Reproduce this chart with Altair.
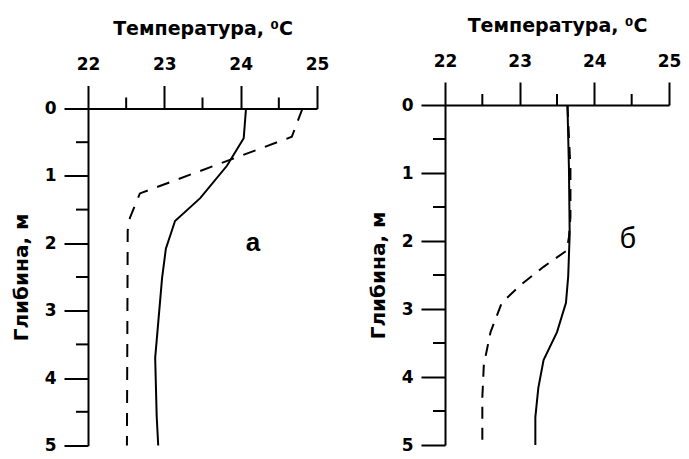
import altair as alt
import pandas as pd

# Panel "а"
a_solid_T = [24.07, 24.04, 23.82, 23.47, 23.14, 23.02, 22.97, 22.88, 22.90, 22.92]
a_solid_D = [0.0, 0.44, 0.85, 1.33, 1.67, 2.08, 2.52, 3.70, 4.57, 5.0]
a_dash_T = [24.81, 24.67, 22.68, 22.55, 22.52, 22.51]
a_dash_D = [0.0, 0.42, 1.26, 1.62, 1.81, 5.0]

# Panel "б"
b_solid_T = [23.64, 23.66, 23.67, 23.65, 23.62, 23.50, 23.32, 23.25, 23.21, 23.21]
b_solid_D = [0.0, 0.93, 1.90, 2.52, 2.91, 3.34, 3.75, 4.16, 4.59, 5.0]
b_dash_T = [23.64, 23.68, 23.68, 23.66, 23.63, 23.32, 23.02, 22.76, 22.61, 22.52, 22.50, 22.50]
b_dash_D = [0.0, 0.93, 1.65, 1.94, 2.14, 2.38, 2.64, 2.91, 3.34, 3.82, 4.30, 5.0]

temp_major = [22, 23, 24, 25]
temp_minor = [22.5, 23.5, 24.5]
depth_major = [0, 1, 2, 3, 4, 5]
depth_minor = [0.5, 1.5, 2.5, 3.5, 4.5]

x_title = "Температура, ⁰C"
y_title = "Глибина, м"
AXIS_FONT = "DejaVu Sans"
LETTER_FONT = "Liberation Sans"


def make_panel(sT, sD, dT, dD, letter, lx, ly, lweight, lsize, w, h, dash,
               top_space, left_space, right_space, bottom_space):
    x_scale = alt.Scale(domain=[22, 25], nice=False, zero=False)
    y_scale = alt.Scale(domain=[0, 5], reverse=True, nice=False, zero=False)
    x_axis = alt.Axis(
        orient="top", values=temp_major, format="d", title=x_title,
        tickSize=23, labelPadding=12, titlePadding=17, titleFontSize=19,
        labelFlush=False, labelOverlap=False, grid=False,
    )
    y_axis = alt.Axis(
        orient="left", values=depth_major, format="d", title=y_title,
        tickSize=24, labelPadding=8, titlePadding=13, titleFontSize=20,
        labelFlush=False, labelOverlap=False, grid=False,
    )
    X = alt.X("T:Q", scale=x_scale, axis=x_axis)
    Y = alt.Y("D:Q", scale=y_scale, axis=y_axis)

    solid = alt.Chart(pd.DataFrame({"T": sT, "D": sD})).mark_line(
        color="black", strokeWidth=2).encode(x=X, y=Y, order=alt.Order("D:Q"))
    dashed = alt.Chart(pd.DataFrame({"T": dT, "D": dD})).mark_line(
        color="black", strokeWidth=2, strokeDash=dash).encode(x=X, y=Y, order=alt.Order("D:Q"))

    # minor ticks (half-degree / half-metre), outward like the major ones
    x_minor = alt.Chart(pd.DataFrame({"T": temp_minor})).mark_rule(
        color="black", strokeWidth=2).encode(x=X, y=alt.value(-11), y2=alt.value(0))
    y_minor = alt.Chart(pd.DataFrame({"D": depth_minor})).mark_rule(
        color="black", strokeWidth=2).encode(y=Y, x=alt.value(-12), x2=alt.value(0))

    txt = alt.Chart(pd.DataFrame({"k": [0]})).mark_text(
        text=letter, font=LETTER_FONT, fontSize=lsize, fontWeight=lweight, color="black",
        align="center", baseline="middle",
    ).encode(x=alt.datum(lx), y=alt.datum(ly))

    # invisible layout spacers (fix the panel's outer bounds)
    sp_top = alt.Chart(pd.DataFrame({"k": [0]})).mark_rule(opacity=0).encode(
        x=alt.value(-left_space), x2=alt.value(w + right_space),
        y=alt.value(-top_space), y2=alt.value(-top_space))
    sp_bot = alt.Chart(pd.DataFrame({"k": [0]})).mark_rule(opacity=0).encode(
        x=alt.value(0), x2=alt.value(1),
        y=alt.value(h + bottom_space), y2=alt.value(h + bottom_space))

    return alt.layer(solid, dashed, x_minor, y_minor, txt, sp_top, sp_bot).properties(width=w, height=h)


panel_a = make_panel(a_solid_T, a_solid_D, a_dash_T, a_dash_D, "а", 24.16, 2.0,
                     "bold", 26, 229, 337, [13, 10], 112, 80, 14, 14)
panel_b = make_panel(b_solid_T, b_solid_D, b_dash_T, b_dash_D, "б", 24.45, 1.97,
                     "normal", 29, 224, 340, [12, 9], 105, 80, 12, 18)

chart = alt.hconcat(panel_a, panel_b, spacing=34, center=True).properties(
    padding={"top": -12, "left": 0, "right": 0, "bottom": -8}
).configure_view(stroke=None).configure_axis(
    domainColor="black", domainWidth=2, tickColor="black", tickWidth=2,
    labelFont=AXIS_FONT, labelFontSize=17, labelFontWeight="bold", labelColor="black",
    titleFont=AXIS_FONT, titleFontWeight="bold", titleColor="black",
)

chart.save("out.html", embed_options={"renderer": "svg", "actions": False})
